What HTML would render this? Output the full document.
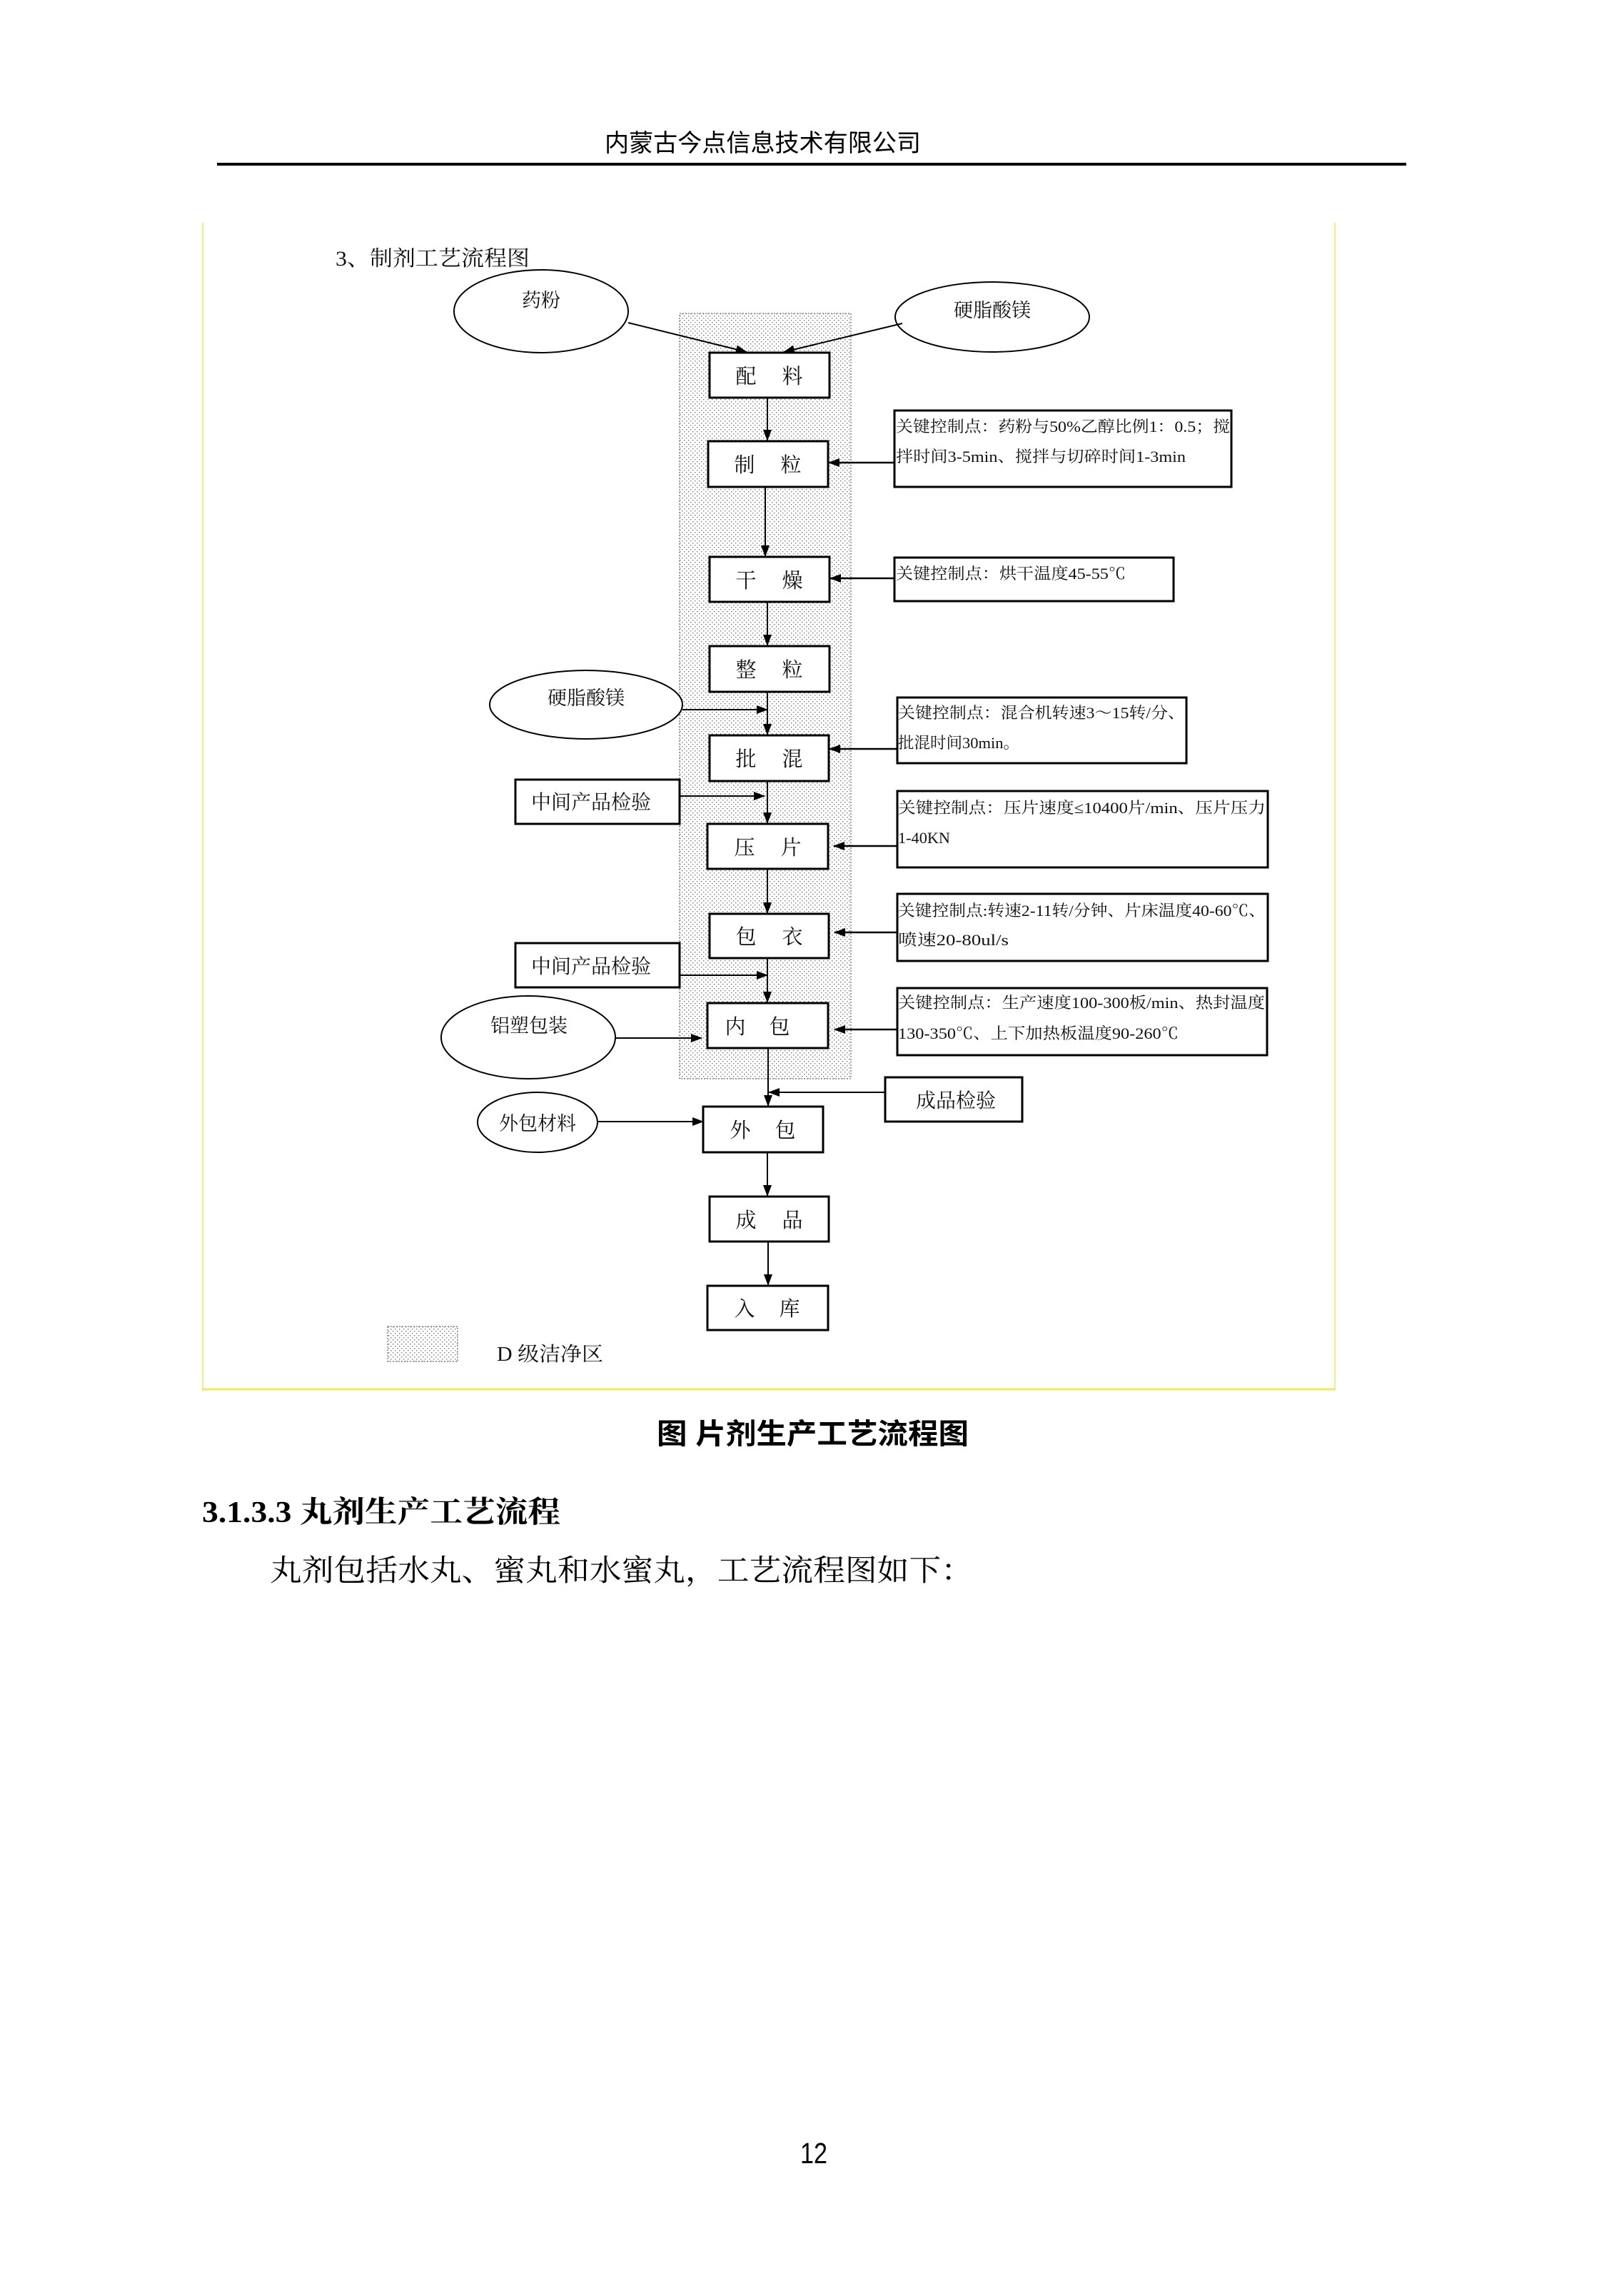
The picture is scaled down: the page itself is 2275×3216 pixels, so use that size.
<!DOCTYPE html>
<html>
<head>
<meta charset="utf-8">
<style>
  html, body { margin: 0; padding: 0; background: #fff; }
  body { width: 2275px; height: 3216px; overflow: hidden; }
  svg { display: block; }
  .s { font-family: "Liberation Serif", "Noto Serif CJK SC", serif; fill: #111; }
  .h { font-family: "Liberation Sans", "Noto Sans CJK SC", sans-serif; fill: #000; }
  .box { fill: #fff; stroke: #000; stroke-width: 3; }
  .ell { fill: #fff; stroke: #000; stroke-width: 2; }
  .ln { stroke: #000; stroke-width: 2; fill: none; }
  .lnb { stroke: #000; stroke-width: 2.6; fill: none; }
</style>
</head>
<body>
<svg width="2275" height="3216" viewBox="0 0 2275 3216" xmlns="http://www.w3.org/2000/svg">
  <defs>
    <pattern id="dots" width="6" height="6" patternUnits="userSpaceOnUse">
      <rect width="6" height="6" fill="#fff"/>
      <rect x="1" y="1" width="1.4" height="1.4" fill="#777"/>
      <rect x="4" y="4" width="1.4" height="1.4" fill="#777"/>
    </pattern>
    <marker id="ah" markerWidth="16" markerHeight="12" refX="15" refY="6" orient="auto" markerUnits="userSpaceOnUse">
      <path d="M0,0 L16,6 L0,12 z" fill="#000"/>
    </marker>
  </defs>

  <rect width="2275" height="3216" fill="#fff"/>

  <!-- Header -->
  <text class="h" x="847" y="212" font-size="34" textLength="443" lengthAdjust="spacingAndGlyphs">内蒙古今点信息技术有限公司</text>
  <rect x="304" y="228" width="1666" height="4" fill="#000"/>

  <!-- Yellow frame -->
  <line x1="284" y1="312" x2="284" y2="1946" stroke="#f3f07a" stroke-width="2"/>
  <line x1="1870" y1="312" x2="1870" y2="1946" stroke="#f3f07a" stroke-width="2"/>
  <line x1="283" y1="1946" x2="1871" y2="1946" stroke="#f0ec50" stroke-width="3"/>

  <!-- Diagram title -->
  <text class="s" x="470" y="372" font-size="30" fill="#333" textLength="272" lengthAdjust="spacingAndGlyphs">3、制剂工艺流程图</text>

  <!-- Shaded clean zone -->
  <rect x="952" y="439" width="240" height="1072" fill="url(#dots)" stroke="#888" stroke-width="1.5" stroke-dasharray="2 2"/>

  <!-- Top ellipses -->
  <ellipse class="ell" cx="758" cy="436" rx="122" ry="58"/>
  <text class="s" x="758" y="430" font-size="27" text-anchor="middle">药粉</text>
  <ellipse class="ell" cx="1390" cy="444" rx="136" ry="49"/>
  <text class="s" x="1390" y="444" font-size="27" text-anchor="middle">硬脂酸镁</text>

  <!-- Connectors -->
  <line class="ln" x1="880" y1="452" x2="1046" y2="493" marker-end="url(#ah)"/>
  <line class="ln" x1="1264" y1="453" x2="1098" y2="493" marker-end="url(#ah)"/>
  <line class="ln" x1="1075" y1="557" x2="1075" y2="617" marker-end="url(#ah)"/>
  <line class="ln" x1="1072" y1="682" x2="1072" y2="779" marker-end="url(#ah)"/>
  <line class="ln" x1="1075" y1="843" x2="1075" y2="904" marker-end="url(#ah)"/>
  <line class="ln" x1="1075" y1="969" x2="1075" y2="1029" marker-end="url(#ah)"/>
  <line class="ln" x1="956" y1="994" x2="1075" y2="994" marker-end="url(#ah)"/>
  <line class="ln" x1="1075" y1="1094" x2="1075" y2="1153" marker-end="url(#ah)"/>
  <line class="ln" x1="952" y1="1115" x2="1071" y2="1115" marker-end="url(#ah)"/>
  <line class="ln" x1="1075" y1="1217" x2="1075" y2="1279" marker-end="url(#ah)"/>
  <line class="ln" x1="1075" y1="1342" x2="1075" y2="1404" marker-end="url(#ah)"/>
  <line class="ln" x1="952" y1="1366" x2="1075" y2="1366" marker-end="url(#ah)"/>
  <line class="ln" x1="861" y1="1454" x2="983" y2="1454" marker-end="url(#ah)"/>
  <line class="ln" x1="1076" y1="1468" x2="1076" y2="1549" marker-end="url(#ah)"/>
  <line class="ln" x1="1240" y1="1530" x2="1077" y2="1530" marker-end="url(#ah)"/>
  <line class="ln" x1="837" y1="1571" x2="985" y2="1571" marker-end="url(#ah)"/>
  <line class="ln" x1="1075" y1="1614" x2="1075" y2="1675" marker-end="url(#ah)"/>
  <line class="ln" x1="1076" y1="1739" x2="1076" y2="1800" marker-end="url(#ah)"/>

  <!-- Control point arrows -->
  <line class="lnb" x1="1253" y1="648" x2="1161" y2="648" marker-end="url(#ah)"/>
  <line class="lnb" x1="1253" y1="810" x2="1163" y2="810" marker-end="url(#ah)"/>
  <line class="lnb" x1="1257" y1="1049" x2="1162" y2="1049" marker-end="url(#ah)"/>
  <line class="lnb" x1="1257" y1="1185" x2="1168" y2="1185" marker-end="url(#ah)"/>
  <line class="lnb" x1="1257" y1="1306" x2="1169" y2="1306" marker-end="url(#ah)"/>
  <line class="lnb" x1="1257" y1="1442" x2="1169" y2="1442" marker-end="url(#ah)"/>

  <!-- Process boxes -->
  <rect class="box" x="994" y="494" width="168" height="63"/>
  <text class="s" x="1045" y="537" font-size="29" text-anchor="middle">配</text>
  <text class="s" x="1110" y="537" font-size="29" text-anchor="middle">料</text>

  <rect class="box" x="992" y="618" width="168" height="64"/>
  <text class="s" x="1043" y="661" font-size="29" text-anchor="middle">制</text>
  <text class="s" x="1108" y="661" font-size="29" text-anchor="middle">粒</text>

  <rect class="box" x="994" y="780" width="168" height="63"/>
  <text class="s" x="1045" y="823" font-size="29" text-anchor="middle">干</text>
  <text class="s" x="1110" y="823" font-size="29" text-anchor="middle">燥</text>

  <rect class="box" x="994" y="905" width="168" height="64"/>
  <text class="s" x="1045" y="948" font-size="29" text-anchor="middle">整</text>
  <text class="s" x="1110" y="948" font-size="29" text-anchor="middle">粒</text>

  <rect class="box" x="994" y="1030" width="167" height="64"/>
  <text class="s" x="1045" y="1073" font-size="29" text-anchor="middle">批</text>
  <text class="s" x="1110" y="1073" font-size="29" text-anchor="middle">混</text>

  <rect class="box" x="991" y="1154" width="169" height="63"/>
  <text class="s" x="1043" y="1197" font-size="29" text-anchor="middle">压</text>
  <text class="s" x="1108" y="1197" font-size="29" text-anchor="middle">片</text>

  <rect class="box" x="994" y="1280" width="167" height="62"/>
  <text class="s" x="1045" y="1322" font-size="29" text-anchor="middle">包</text>
  <text class="s" x="1110" y="1322" font-size="29" text-anchor="middle">衣</text>

  <rect class="box" x="991" y="1405" width="169" height="63"/>
  <text class="s" x="1030" y="1448" font-size="29" text-anchor="middle">内</text>
  <text class="s" x="1092" y="1448" font-size="29" text-anchor="middle">包</text>

  <rect class="box" x="985" y="1550" width="168" height="64"/>
  <text class="s" x="1037" y="1593" font-size="29" text-anchor="middle">外</text>
  <text class="s" x="1100" y="1593" font-size="29" text-anchor="middle">包</text>

  <rect class="box" x="994" y="1676" width="167" height="63"/>
  <text class="s" x="1045" y="1719" font-size="29" text-anchor="middle">成</text>
  <text class="s" x="1110" y="1719" font-size="29" text-anchor="middle">品</text>

  <rect class="box" x="991" y="1801" width="169" height="62"/>
  <text class="s" x="1043" y="1843" font-size="29" text-anchor="middle">入</text>
  <text class="s" x="1106" y="1843" font-size="29" text-anchor="middle">库</text>

  <!-- Left side elements -->
  <ellipse class="ell" cx="821" cy="987" rx="135" ry="48"/>
  <text class="s" x="821" y="987" font-size="27" text-anchor="middle">硬脂酸镁</text>

  <rect class="box" x="722" y="1092" width="230" height="62"/>
  <text class="s" x="744" y="1133" font-size="28" textLength="168" lengthAdjust="spacingAndGlyphs">中间产品检验</text>

  <rect class="box" x="722" y="1321" width="230" height="62"/>
  <text class="s" x="744" y="1363" font-size="28" textLength="168" lengthAdjust="spacingAndGlyphs">中间产品检验</text>

  <ellipse class="ell" cx="740" cy="1453" rx="122" ry="58"/>
  <text class="s" x="741" y="1446" font-size="27" text-anchor="middle">铝塑包装</text>

  <ellipse class="ell" cx="753" cy="1572" rx="84" ry="42"/>
  <text class="s" x="753" y="1583" font-size="27" text-anchor="middle">外包材料</text>

  <rect class="box" x="1240" y="1509" width="192" height="62"/>
  <text class="s" x="1283" y="1551" font-size="28" textLength="112" lengthAdjust="spacingAndGlyphs">成品检验</text>

  <!-- Control point boxes -->
  <rect class="box" x="1253" y="575" width="472" height="107"/>
  <text class="s" x="1255" y="605" font-size="22" textLength="468" lengthAdjust="spacingAndGlyphs">关键控制点：药粉与50%乙醇比例1：0.5；搅</text>
  <text class="s" x="1255" y="647" font-size="22" textLength="406" lengthAdjust="spacingAndGlyphs">拌时间3-5min、搅拌与切碎时间1-3min</text>

  <rect class="box" x="1253" y="781" width="391" height="61"/>
  <text class="s" x="1255" y="811" font-size="22" textLength="322" lengthAdjust="spacingAndGlyphs">关键控制点：烘干温度45-55℃</text>

  <rect class="box" x="1257" y="977" width="405" height="92"/>
  <text class="s" x="1258" y="1006" font-size="22" textLength="402" lengthAdjust="spacingAndGlyphs">关键控制点：混合机转速3～15转/分、</text>
  <text class="s" x="1258" y="1048" font-size="22" textLength="170" lengthAdjust="spacingAndGlyphs">批混时间30min。</text>

  <rect class="box" x="1257" y="1108" width="519" height="107"/>
  <text class="s" x="1258" y="1139" font-size="22" textLength="515" lengthAdjust="spacingAndGlyphs">关键控制点：压片速度≤10400片/min、压片压力</text>
  <text class="s" x="1258" y="1181" font-size="22" textLength="73" lengthAdjust="spacingAndGlyphs">1-40KN</text>

  <rect class="box" x="1257" y="1252" width="519" height="94"/>
  <text class="s" x="1258" y="1283" font-size="22" textLength="515" lengthAdjust="spacingAndGlyphs">关键控制点:转速2-11转/分钟、片床温度40-60℃、</text>
  <text class="s" x="1258" y="1324" font-size="22" textLength="155" lengthAdjust="spacingAndGlyphs">喷速20-80ul/s</text>

  <rect class="box" x="1257" y="1384" width="518" height="94"/>
  <text class="s" x="1258" y="1412" font-size="22" textLength="514" lengthAdjust="spacingAndGlyphs">关键控制点：生产速度100-300板/min、热封温度</text>
  <text class="s" x="1258" y="1455" font-size="22" textLength="393" lengthAdjust="spacingAndGlyphs">130-350℃、上下加热板温度90-260℃</text>

  <!-- Legend -->
  <rect x="543" y="1858" width="98" height="49" fill="url(#dots)" stroke="#888" stroke-width="1.5" stroke-dasharray="2 2"/>
  <text class="s" x="696" y="1906" font-size="28" fill="#333" textLength="149" lengthAdjust="spacingAndGlyphs">D 级洁净区</text>

  <!-- Caption -->
  <text x="920" y="2022" font-family="'Liberation Sans','Noto Sans CJK SC',sans-serif" font-weight="bold" font-size="40" fill="#000" textLength="437" lengthAdjust="spacingAndGlyphs">图  片剂生产工艺流程图</text>

  <!-- Section heading -->
  <text x="283" y="2132" font-family="'Liberation Serif','Noto Serif CJK SC',serif" font-weight="bold" font-size="42" fill="#000" textLength="502" lengthAdjust="spacingAndGlyphs">3.1.3.3 丸剂生产工艺流程</text>

  <!-- Body text -->
  <text x="378" y="2214" font-family="'Liberation Serif','Noto Serif CJK SC',serif" font-size="42" fill="#000" textLength="985" lengthAdjust="spacingAndGlyphs">丸剂包括水丸、蜜丸和水蜜丸，工艺流程图如下：</text>

  <!-- Page number -->
  <text x="1121" y="3030" font-family="'Liberation Sans','DejaVu Sans',sans-serif" font-size="41" fill="#000" textLength="38" lengthAdjust="spacingAndGlyphs">12</text>
</svg>
</body>
</html>
